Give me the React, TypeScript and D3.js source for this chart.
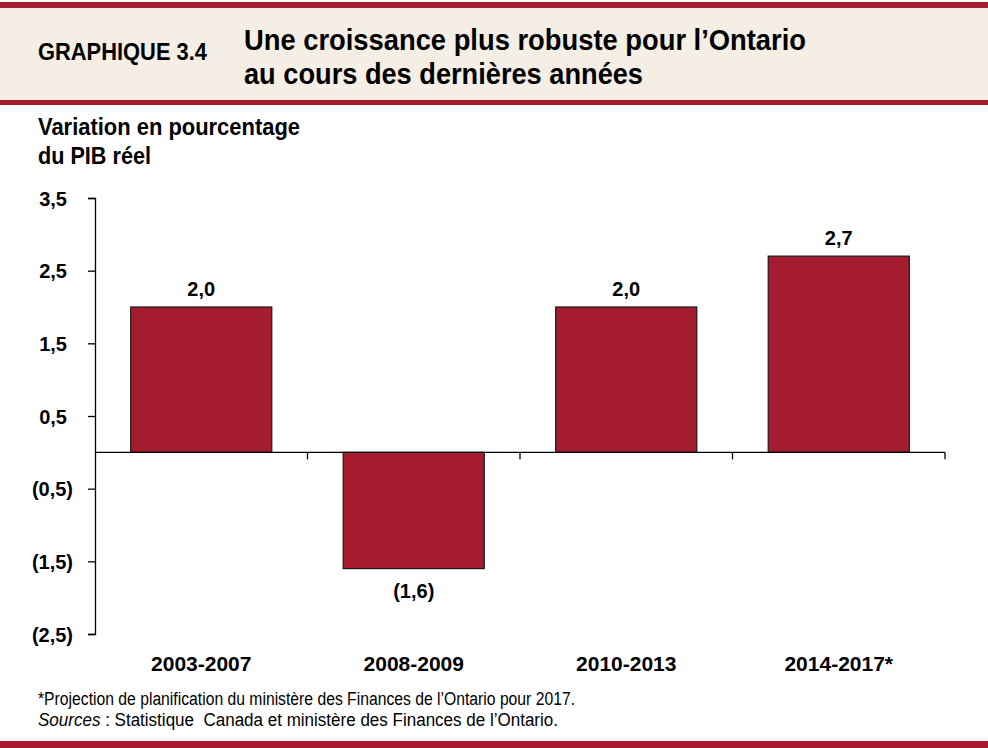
import * as d3 from 'd3';
import React, { useEffect, useRef } from 'react';

// Chart data
const periods = ['2003-2007', '2008-2009', '2010-2013', '2014-2017*'];
const gdpGrowth = [2.0, -1.6, 2.0, 2.7];
const yTickValues = [3.5, 2.5, 1.5, 0.5, -0.5, -1.5, -2.5];

const chartLabel = 'GRAPHIQUE 3.4';
const titleLines = ['Une croissance plus robuste pour l\u2019Ontario', 'au cours des derni\u00e8res ann\u00e9es'];
const yTitleLines = ['Variation en pourcentage', 'du PIB r\u00e9el'];
const footnote = '*Projection de planification du minist\u00e8re des Finances de l\u2019Ontario pour 2017.';
const sourceLabel = 'Sources';
const sourceText = ' : Statistique\u00a0 Canada et minist\u00e8re des Finances de l\u2019Ontario.';

const RED = '#a51b30';
const BEIGE = '#f4eee4';
const FONT = '"Liberation Sans", Arial, sans-serif';

const frLocale = d3.formatLocale({ decimal: ',', thousands: ' ', grouping: [3], currency: ['', ' $'] });
const fmt1 = frLocale.format('.1f');
const fmtValue = (v: number) => (v < 0 ? `(${fmt1(-v)})` : fmt1(v));

const GrowthChart: React.FC = () => {
    const svgRef = useRef<SVGSVGElement>(null);

    useEffect(() => {
        if (!svgRef.current) return;
        d3.select(svgRef.current).selectAll('*').remove();

        const width = 988;
        const height = 748;
        const left = 95;
        const right = 945;
        const top = 198;
        const bottom = 634;

        const svg = d3.select(svgRef.current)
            .attr('width', width)
            .attr('height', height)
            .style('font-family', FONT);

        // Header band
        svg.append('rect').attr('x', 0).attr('y', 7).attr('width', width).attr('height', 93).attr('fill', BEIGE);
        svg.append('rect').attr('x', 0).attr('y', 2).attr('width', width).attr('height', 6).attr('fill', RED);
        svg.append('rect').attr('x', 0).attr('y', 100).attr('width', width).attr('height', 5).attr('fill', RED);
        svg.append('rect').attr('x', 0).attr('y', 741).attr('width', width).attr('height', 7).attr('fill', RED);

        svg.append('text')
            .attr('x', 38).attr('y', 60)
            .attr('font-size', 24).attr('font-weight', 'bold')
            .attr('textLength', 169).attr('lengthAdjust', 'spacingAndGlyphs')
            .text(chartLabel);

        const titleWidths = [562, 399];
        titleLines.forEach((line, i) => {
            svg.append('text')
                .attr('x', 244).attr('y', 50 + i * 34)
                .attr('font-size', 29).attr('font-weight', 'bold')
                .attr('textLength', titleWidths[i]).attr('lengthAdjust', 'spacingAndGlyphs')
                .text(line);
        });

        // Y axis title
        const yTitleWidths = [262, 113];
        yTitleLines.forEach((line, i) => {
            svg.append('text')
                .attr('x', 38).attr('y', 135 + i * 29)
                .attr('font-size', 23).attr('font-weight', 'bold')
                .attr('textLength', yTitleWidths[i]).attr('lengthAdjust', 'spacingAndGlyphs')
                .text(line);
        });

        const x = d3.scaleBand<string>()
            .domain(periods)
            .range([left, right])
            .paddingInner(0.336)
            .paddingOuter(0.168);

        const y = d3.scaleLinear()
            .domain([-2.5, 3.5])
            .range([bottom, top]);

        // Y axis
        const yAxis = d3.axisLeft(y)
            .tickValues(yTickValues)
            .tickSize(7)
            .tickPadding(0)
            .tickFormat((d) => fmtValue(d as number));

        const yg = svg.append('g')
            .attr('transform', `translate(${left},0)`)
            .call(yAxis);
        yg.select('.domain').attr('stroke', '#000').attr('stroke-width', 1.3);
        yg.selectAll('.tick line').attr('stroke', '#000').attr('stroke-width', 1.3);
        yg.selectAll<SVGTextElement, number>('.tick text')
            .attr('x', (d) => (d < 0 ? -22 : -28))
            .attr('dy', '0.35em')
            .attr('font-size', 20)
            .attr('font-weight', 'bold')
            .attr('font-family', FONT)
            .attr('fill', '#000');

        // Bars
        svg.append('g')
            .selectAll('rect')
            .data(gdpGrowth)
            .join('rect')
            .attr('x', (_, i) => x(periods[i])!)
            .attr('width', x.bandwidth())
            .attr('y', (d) => y(Math.max(0, d)))
            .attr('height', (d) => Math.abs(y(d) - y(0)))
            .attr('fill', RED)
            .attr('stroke', '#1a1a1a')
            .attr('stroke-width', 1.2);

        // Value labels
        svg.append('g')
            .selectAll('text')
            .data(gdpGrowth)
            .join('text')
            .attr('x', (_, i) => x(periods[i])! + x.bandwidth() / 2)
            .attr('y', (d) => (d >= 0 ? y(d) - 11 : y(d) + 29))
            .attr('text-anchor', 'middle')
            .attr('font-size', 20)
            .attr('font-weight', 'bold')
            .text((d) => fmtValue(d));

        // X axis at zero with ticks between categories
        const step = x.step();
        const gap = step * x.paddingInner() / 2;
        svg.append('line')
            .attr('x1', left).attr('x2', right)
            .attr('y1', y(0)).attr('y2', y(0))
            .attr('stroke', '#000').attr('stroke-width', 1.3);
        svg.append('g')
            .selectAll('line')
            .data(periods)
            .join('line')
            .attr('x1', (d) => x(d)! + x.bandwidth() + gap)
            .attr('x2', (d) => x(d)! + x.bandwidth() + gap)
            .attr('y1', y(0))
            .attr('y2', y(0) + 7)
            .attr('stroke', '#000').attr('stroke-width', 1.3);

        // Category labels
        svg.append('g')
            .selectAll('text')
            .data(periods)
            .join('text')
            .attr('x', (d) => x(d)! + x.bandwidth() / 2)
            .attr('y', 671)
            .attr('text-anchor', 'middle')
            .attr('font-size', 21)
            .attr('font-weight', 'bold')
            .text((d) => d);

        // Footnotes
        svg.append('text')
            .attr('x', 38).attr('y', 705)
            .attr('font-size', 18)
            .attr('textLength', 537).attr('lengthAdjust', 'spacingAndGlyphs')
            .text(footnote);
        const src = svg.append('text')
            .attr('x', 38).attr('y', 726)
            .attr('font-size', 18)
            .attr('textLength', 520).attr('lengthAdjust', 'spacingAndGlyphs');
        src.append('tspan').attr('font-style', 'italic').text(sourceLabel);
        src.append('tspan').text(sourceText);
    }, []);

    return (
        <div>
            <style>{`body { margin: 0; }`}</style>
            <svg ref={svgRef} style={{ display: 'block' }}></svg>
        </div>
    );
};

export default function App() {
    return <GrowthChart />;
}
